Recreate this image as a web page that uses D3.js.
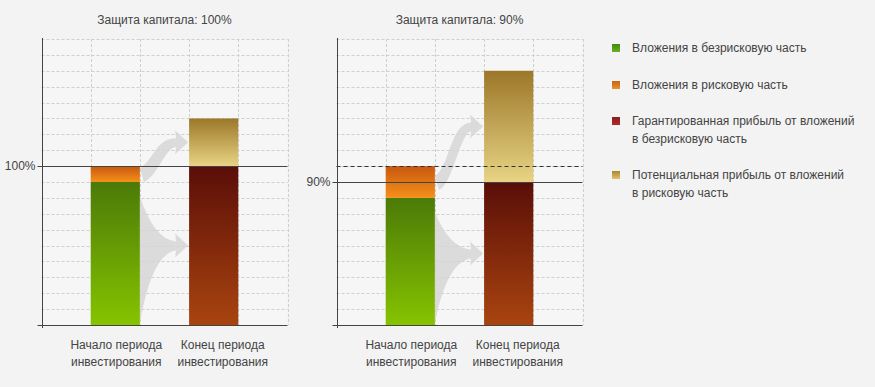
<!DOCTYPE html>
<html>
<head>
<meta charset="utf-8">
<script src="https://cdn.jsdelivr.net/npm/d3@7"></script>
<style>
  body { margin: 0; background: #f3f3f3; }
  text { font-family: Arial, "Liberation Sans", sans-serif; font-size: 12px; fill: #444; }
</style>
</head>
<body>
<div id="chart"></div>
<script>
// data
const panelTitles = ["Защита капитала: 100%", "Защита капитала: 90%"];
const protectionLevels = [100, 90];
const categories = [["Начало периода", "инвестирования"], ["Конец периода", "инвестирования"]];
const riskFreeInvest = [90, 80];     // green
const riskyInvest = [10, 20];        // orange
const guaranteedProfit = [100, 90];  // dark red
const potentialProfit = [30, 70];    // gold
const legendLabels = [
    ["Вложения в безрисковую часть"],
    ["Вложения в рисковую часть"],
    ["Гарантированная прибыль от вложений", "в безрисковую часть"],
    ["Потенциальная прибыль от вложений", "в рисковую часть"]
];

const W = 875, H = 387;
const plotTop = 39, plotBottom = 325, plotW = 246;
const panelX = [41.5, 336.5];

const svg = d3.select("#chart").append("svg")
    .attr("width", W).attr("height", H);

// gradients
const defs = svg.append("defs");
const grads = {
    green: ["#4b7a08", "#86c300"],
    orange: ["#c9580f", "#f5901a"],
    red: ["#5a0e08", "#a9440f"],
    gold: ["#9c772a", "#e8d484"],
    lgGreen: ["#3f8a10", "#6cb020"],
    lgOrange: ["#c86418", "#e8902c"],
    lgRed: ["#8c1c1c", "#b02a2a"],
    lgGold: ["#a88530", "#e0c070"]
};
Object.entries(grads).forEach(([id, c]) => {
    const g = defs.append("linearGradient").attr("id", id)
        .attr("x1", 0).attr("y1", 0).attr("x2", 0).attr("y2", 1);
    g.append("stop").attr("offset", "0%").attr("stop-color", c[0]);
    g.append("stop").attr("offset", "100%").attr("stop-color", c[1]);
});

const y = d3.scaleLinear().domain([0, 180]).range([plotBottom, plotTop]);

panelTitles.forEach((title, p) => {
    const x = d3.scaleLinear().domain([0, 5]).range([panelX[p], panelX[p] + plotW]);
    const g = svg.append("g");
    const colW = x(1) - x(0);

    g.append("rect")
        .attr("x", x(0)).attr("y", plotTop)
        .attr("width", plotW).attr("height", plotBottom - plotTop)
        .attr("fill", "#f6f6f6");

    // grid
    g.selectAll(".hgrid")
        .data(d3.range(10, 181, 10).filter(v => v !== protectionLevels[p]))
        .join("line")
        .attr("x1", x(0)).attr("x2", x(5))
        .attr("y1", d => Math.round(y(d)) + 0.5).attr("y2", d => Math.round(y(d)) + 0.5)
        .attr("stroke", "#cfcfcf").attr("stroke-dasharray", "3,2");
    g.selectAll(".vgrid")
        .data(d3.range(1, 6))
        .join("line")
        .attr("x1", d => Math.round(x(d)) + 0.5).attr("x2", d => Math.round(x(d)) + 0.5)
        .attr("y1", plotTop).attr("y2", plotBottom)
        .attr("stroke", "#cfcfcf").attr("stroke-dasharray", "3,2");

    // bars
    const startX = x(1), endX = x(3);
    const segs = [
        { x: startX, y0: 0, y1: riskFreeInvest[p], fill: "url(#green)" },
        { x: startX, y0: riskFreeInvest[p], y1: riskFreeInvest[p] + riskyInvest[p], fill: "url(#orange)" },
        { x: endX, y0: 0, y1: guaranteedProfit[p], fill: "url(#red)" },
        { x: endX, y0: guaranteedProfit[p], y1: guaranteedProfit[p] + potentialProfit[p], fill: "url(#gold)" }
    ];
    g.selectAll(".seg").data(segs).join("rect")
        .attr("x", d => d.x).attr("y", d => y(d.y1))
        .attr("width", colW).attr("height", d => y(d.y0) - y(d.y1))
        .attr("fill", d => d.fill);

    // arrows
    const xe = x(2), xt = x(3) - 1;
    const a0 = y(riskFreeInvest[p] + riskyInvest[p] / 2);
    const a1 = y(guaranteedProfit[p] + potentialProfit[p] / 2);
    g.append("path")
        .attr("d", `M${xe},${a0 - 6} C${xe + 14},${a0 - 14} ${xe + 16},${a1 - 4} ${xt - 12},${a1 - 4}
            L${xt - 13},${a1 - 12} L${xt},${a1} L${xt - 13},${a1 + 12} L${xt - 12},${a1 + 5}
            C${xe + 26},${a1 + 4} ${xe + 18},${a0 + 2} ${xe + 4},${a0 + 8} Z`)
        .attr("fill", "#d4d4d4").attr("opacity", 0.8);

    const b1 = y(guaranteedProfit[p] / 2);
    const bTop = y(riskFreeInvest[p]) + 14, bBot = plotBottom - 2;
    g.append("path")
        .attr("d", `M${xe},${bTop} Q${xe + 14},${b1 - 6} ${xt - 12},${b1 - 4}
            L${xt - 13},${b1 - 12} L${xt},${b1} L${xt - 13},${b1 + 12} L${xt - 12},${b1 + 5}
            Q${xe + 12},${b1 + 8} ${xe},${bBot} Z`)
        .attr("fill", "#d4d4d4").attr("opacity", 0.8);

    // protection level line
    g.append("line")
        .attr("x1", x(0) - 4).attr("x2", x(5))
        .attr("y1", Math.round(y(protectionLevels[p])) + 0.5).attr("y2", Math.round(y(protectionLevels[p])) + 0.5)
        .attr("stroke", "#444");
    if (protectionLevels[p] !== 100) {
        g.append("line")
            .attr("x1", x(0)).attr("x2", x(5))
            .attr("y1", Math.round(y(100)) + 0.5).attr("y2", Math.round(y(100)) + 0.5)
            .attr("stroke", "#333").attr("stroke-dasharray", "4,3");
    }

    // axes
    g.append("g")
        .attr("transform", `translate(${Math.round(x(0)) + 0.5},0)`)
        .call(d3.axisLeft(y).tickValues([protectionLevels[p]]).tickSize(0).tickPadding(7)
            .tickFormat(d => d + "%"))
        .call(a => a.select(".domain").remove())
        .selectAll("text").style("font-size", "12px").attr("fill", "#444");
    g.append("line")
        .attr("x1", Math.round(x(0)) + 0.5).attr("x2", Math.round(x(0)) + 0.5)
        .attr("y1", plotTop - 1).attr("y2", plotBottom + 3)
        .attr("stroke", "#444");
    g.append("line")
        .attr("x1", x(0) - 4).attr("x2", x(5))
        .attr("y1", plotBottom + 0.5).attr("y2", plotBottom + 0.5)
        .attr("stroke", "#444");

    // category labels
    categories.forEach((lines, i) => {
        const cx = x(i * 2 + 1.5) + (i === 1 ? 9 : 1);
        const t = g.append("text").attr("text-anchor", "middle")
            .attr("x", cx).attr("y", 349);
        lines.forEach((s, k) => t.append("tspan").attr("x", cx).attr("dy", k ? 17 : 0).text(s));
    });

    // title
    g.append("text")
        .attr("x", x(2.5)).attr("y", 24)
        .attr("text-anchor", "middle")
        .text(title);
});

// legend
const legendY = [49, 86, 122, 176];
const swatches = ["url(#lgGreen)", "url(#lgOrange)", "url(#lgRed)", "url(#lgGold)"];
const legend = svg.append("g");
legendLabels.forEach((lines, i) => {
    legend.append("rect")
        .attr("x", 612).attr("y", legendY[i] - 5)
        .attr("width", 8).attr("height", 8)
        .attr("fill", swatches[i]);
    const t = legend.append("text").attr("x", 632).attr("y", legendY[i] + 3);
    lines.forEach((s, k) => t.append("tspan").attr("x", 632).attr("dy", k ? 18 : 0).text(s));
});
</script>
</body>
</html>
